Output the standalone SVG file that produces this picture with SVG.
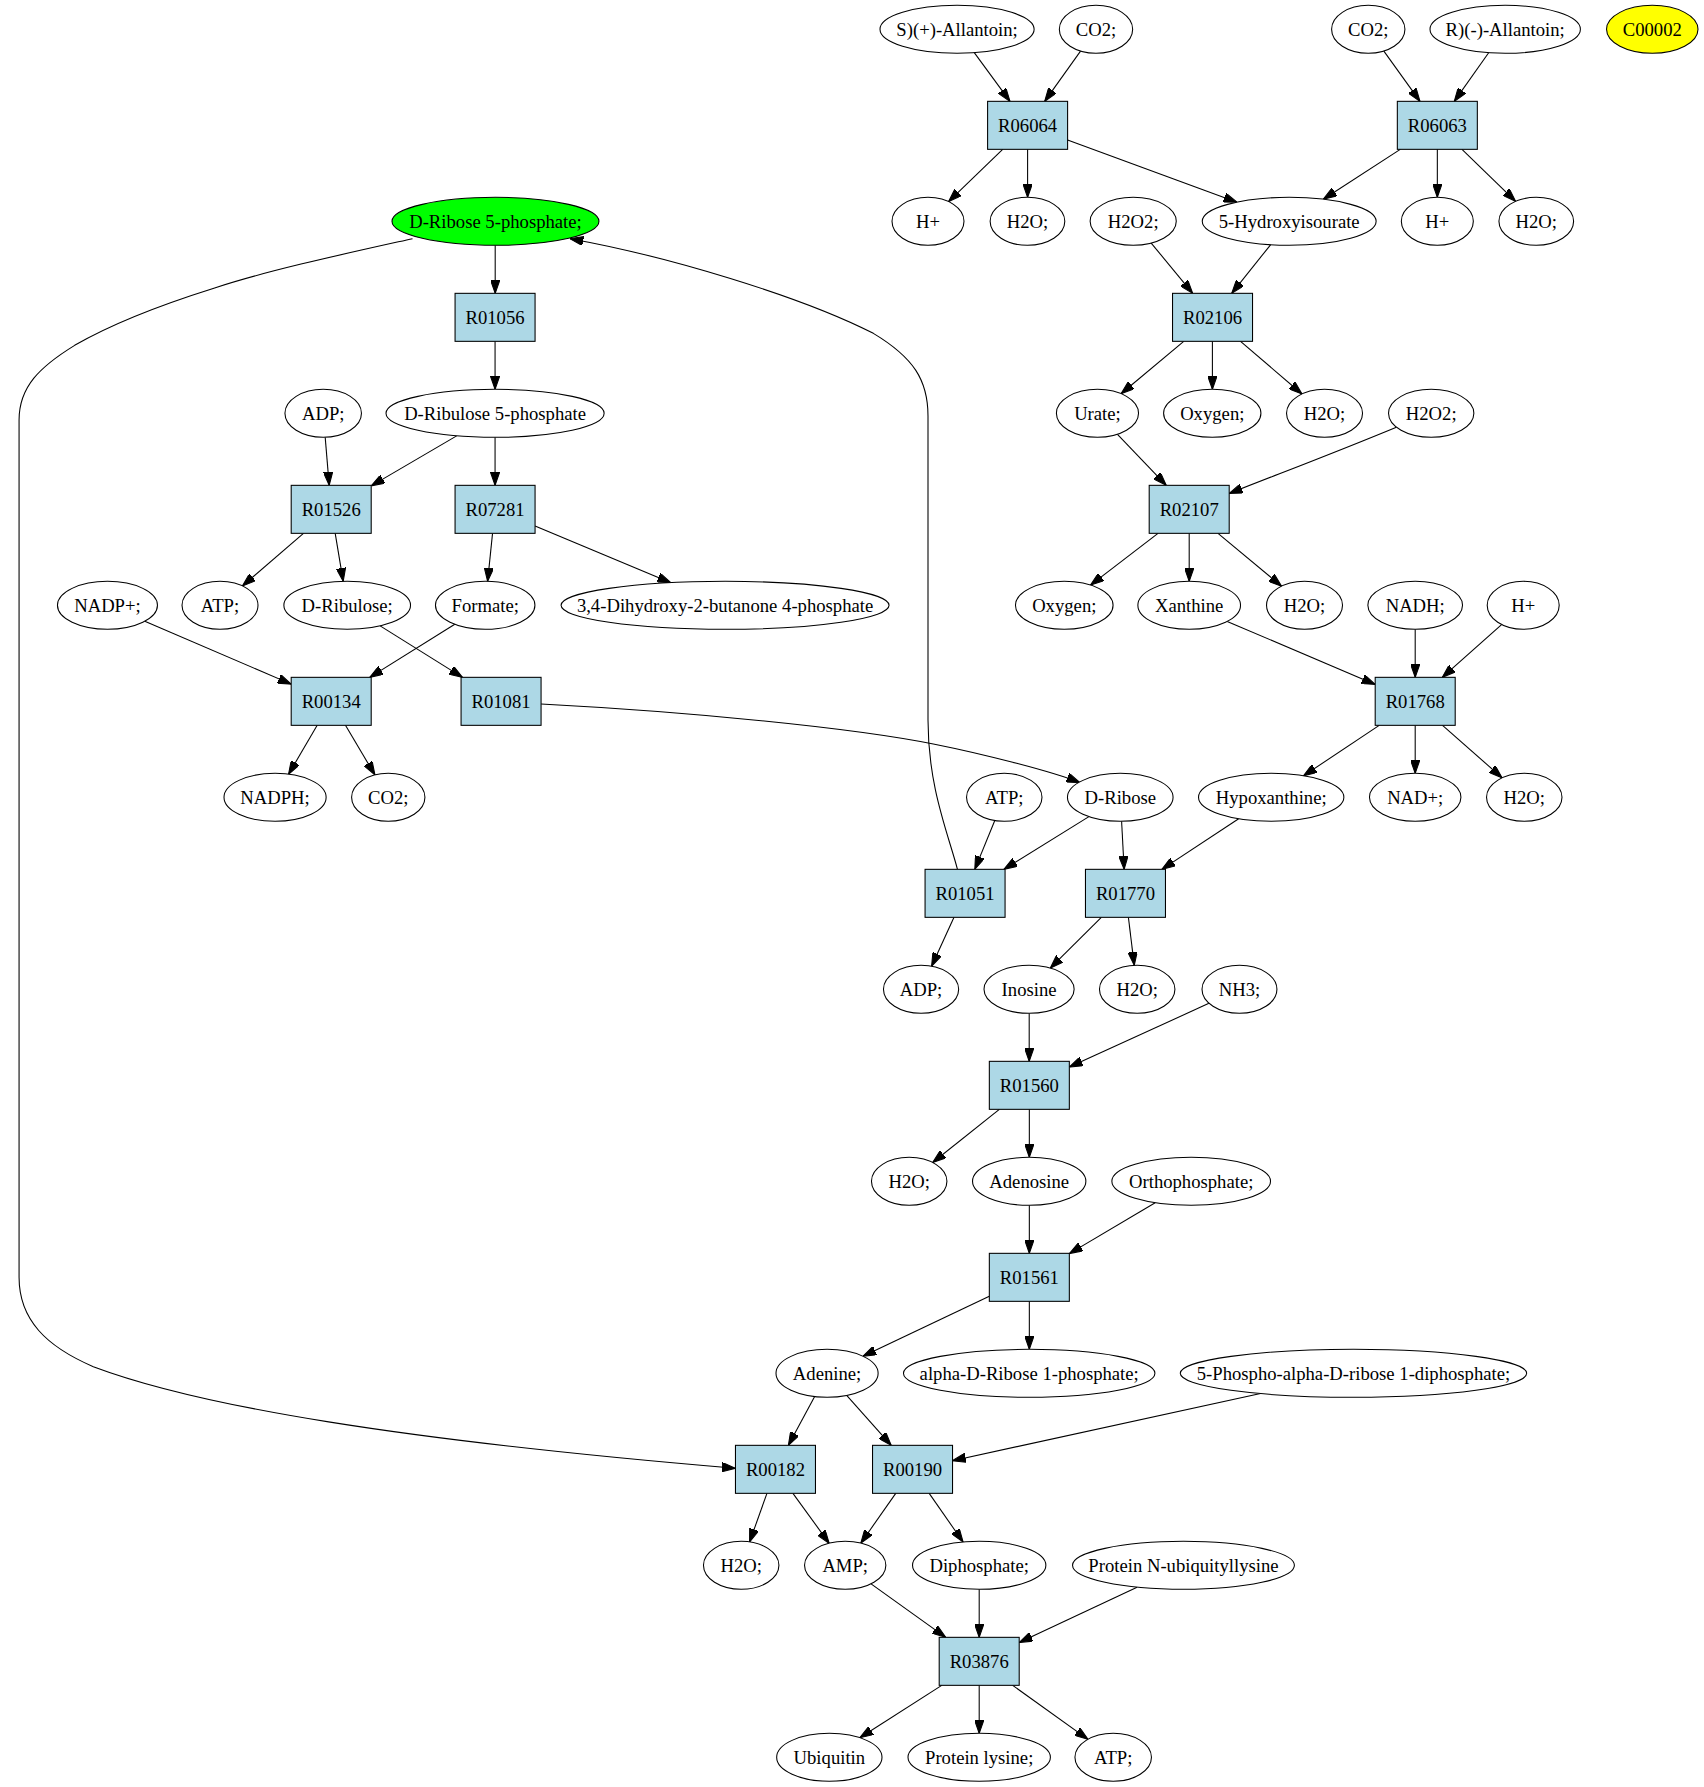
<svg xmlns="http://www.w3.org/2000/svg" width="1704" height="1787" viewBox="0 0 1704 1787">
<defs>
<style>
.e{fill:#ffffff;stroke:#000;stroke-width:0.8}
.r{fill:#add8e6;stroke:#000;stroke-width:0.8}
.g{fill:#00ff00;stroke:#000;stroke-width:0.8}
.y{fill:#ffff00;stroke:#000;stroke-width:0.8}
text{font-family:"Liberation Serif","Times New Roman",serif;font-size:14px;text-anchor:middle;fill:#000}
#edges path{fill:none;stroke:#000;stroke-width:0.8;marker-end:url(#ah)}
</style>
<marker id="ah" viewBox="0 0 10 7" refX="10" refY="3.5" markerWidth="10" markerHeight="7" orient="auto" markerUnits="userSpaceOnUse">
<path d="M0,0 L10,3.5 L0,7 z" fill="#000" stroke="#000" stroke-width="0.8"/>
</marker>
</defs>
<rect width="1704" height="1787" fill="#ffffff"/>
<g transform="scale(1.333333)">
<g id="edges">
<path d="M730.7,39.5 L757.5,76"/>
<path d="M810.4,38.3 L783.5,76"/>
<path d="M1037.9,38.3 L1065,76"/>
<path d="M1116.5,39.6 L1090.7,76"/>
<path d="M752,112 L711.4,151.2"/>
<path d="M770.7,112 L770.7,148"/>
<path d="M800.7,105 L927.7,151.6"/>
<path d="M1050.2,112 L992.5,149.4"/>
<path d="M1078,112 L1078,148"/>
<path d="M1096.5,112 L1136.7,151"/>
<path d="M371.4,184 L371.4,220"/>
<path d="M309.4,179 C260,190 200,203 161,216 C110,232 75,248 56,259 C30,275 14.3,290 14.3,315 L14.3,958 C14.3,990 35,1010 70,1025 C150,1055 300,1080 551.5,1101.2"/>
<path d="M863.4,182.3 L894.5,220"/>
<path d="M952.9,183.6 L923.8,220"/>
<path d="M371.3,256 L371.3,292"/>
<path d="M887.8,256 L840.8,295.3"/>
<path d="M909.3,256 L909.3,292"/>
<path d="M930.4,256 L976.5,295.5"/>
<path d="M243.9,328 L246.9,364"/>
<path d="M342.5,326.9 L278.4,364.4"/>
<path d="M371.3,328 L371.3,364"/>
<path d="M838.1,325.7 L874.7,364"/>
<path d="M1047.3,320.4 C1000,340 960,355 921.9,370.1"/>
<path d="M227.6,400 L181.8,439.5"/>
<path d="M251.4,400 L257.4,436"/>
<path d="M369.4,400 L365.7,436"/>
<path d="M401.3,394.5 L503.1,437"/>
<path d="M868.5,400 L817.9,438.8"/>
<path d="M891.9,400 L891.9,436"/>
<path d="M913.5,400 L961.2,439.7"/>
<path d="M108.6,466 L218.4,513.1"/>
<path d="M341.1,468.2 L277.3,508"/>
<path d="M285.1,469.4 L346.9,508"/>
<path d="M920.4,466.1 L1031.4,513.3"/>
<path d="M1061.4,472 L1061.4,508"/>
<path d="M1126.2,468.4 L1081.7,508"/>
<path d="M237.9,544 L216.4,580.7"/>
<path d="M259.1,544 L281.2,581.2"/>
<path d="M405.8,528 C520,534 640,546 700,558 C740,566 790,579 810,587"/>
<path d="M1034.4,544 L977.6,581.9"/>
<path d="M1061.4,544 L1061.4,580"/>
<path d="M1081.9,544 L1126.6,583.4"/>
<path d="M746.1,615.4 L731.1,652"/>
<path d="M816.7,612.5 L752.9,652"/>
<path d="M841.2,616 L843.1,652"/>
<path d="M929,614.1 L871.4,652"/>
<path d="M718.1,652 C711,625 696,590 696,540 L696,312 C696,285 685,268 655,250 C600,222 500,192 427.5,179"/>
<path d="M715.5,688 L698.7,724.7"/>
<path d="M826,688 L787.7,726.1"/>
<path d="M846.3,688 L850.7,724"/>
<path d="M771.9,760 L771.9,796"/>
<path d="M906.7,752.5 L802,800.3"/>
<path d="M749.5,832 L699.5,871.9"/>
<path d="M772,832 L772,868"/>
<path d="M772,904 L772,940"/>
<path d="M866.4,902 L802,940.2"/>
<path d="M742,972.2 L647.2,1017.2"/>
<path d="M772,976 L772,1012"/>
<path d="M610.9,1047.5 L591.3,1084"/>
<path d="M635,1046.6 L668.4,1084"/>
<path d="M945.4,1045.2 L714.4,1095.5"/>
<path d="M575.2,1120 L562.2,1156.5"/>
<path d="M594.7,1120 L621.9,1157.5"/>
<path d="M671.8,1120 L645.6,1157.4"/>
<path d="M696.9,1120 L722.3,1156.5"/>
<path d="M653.3,1187.9 L709.3,1228"/>
<path d="M734.4,1192 L734.4,1228"/>
<path d="M852.8,1190.4 L764.4,1231.9"/>
<path d="M706.3,1264 L644.9,1303.3"/>
<path d="M734.4,1264 L734.4,1300"/>
<path d="M759.5,1264 L816,1304.5"/>
</g>
<g id="n_sallantoin"><ellipse class="e" cx="717.8" cy="22" rx="57.8" ry="18"/><text x="717.8" y="27.3">S)(+)-Allantoin;</text></g>
<g id="n_co2_a"><ellipse class="e" cx="822" cy="22" rx="27.5" ry="18"/><text x="822" y="27.3">CO2;</text></g>
<g id="n_co2_b"><ellipse class="e" cx="1026.2" cy="22" rx="27.5" ry="18"/><text x="1026.2" y="27.3">CO2;</text></g>
<g id="n_rallantoin"><ellipse class="e" cx="1128.9" cy="22" rx="56.4" ry="18"/><text x="1128.9" y="27.3">R)(-)-Allantoin;</text></g>
<g id="n_c00002"><ellipse class="y" cx="1239.2" cy="22" rx="34.3" ry="18"/><text x="1239.2" y="27.3">C00002</text></g>
<g id="r_R06064"><rect class="r" x="740.7" y="76" width="60" height="36"/><text x="770.7" y="99.3">R06064</text></g>
<g id="r_R06063"><rect class="r" x="1048" y="76" width="60" height="36"/><text x="1078" y="99.3">R06063</text></g>
<g id="n_ribose5p"><ellipse class="g" cx="371.6" cy="166" rx="77.6" ry="18"/><text x="371.6" y="171.3">D-Ribose 5-phosphate;</text></g>
<g id="n_hplus_a"><ellipse class="e" cx="696" cy="166" rx="27" ry="18"/><text x="696" y="171.3">H+</text></g>
<g id="n_h2o_a"><ellipse class="e" cx="770.6" cy="166" rx="28" ry="18"/><text x="770.6" y="171.3">H2O;</text></g>
<g id="n_h2o2_a"><ellipse class="e" cx="849.9" cy="166" rx="32.3" ry="18"/><text x="849.9" y="171.3">H2O2;</text></g>
<g id="n_hydroxyisourate"><ellipse class="e" cx="966.9" cy="166" rx="65.2" ry="18"/><text x="966.9" y="171.3">5-Hydroxyisourate</text></g>
<g id="n_hplus_b"><ellipse class="e" cx="1078" cy="166" rx="27" ry="18"/><text x="1078" y="171.3">H+</text></g>
<g id="n_h2o_b"><ellipse class="e" cx="1152.2" cy="166" rx="28" ry="18"/><text x="1152.2" y="171.3">H2O;</text></g>
<g id="r_R01056"><rect class="r" x="341.3" y="220" width="60" height="36"/><text x="371.3" y="243.3">R01056</text></g>
<g id="r_R02106"><rect class="r" x="879.4" y="220" width="60" height="36"/><text x="909.4" y="243.3">R02106</text></g>
<g id="n_adp_a"><ellipse class="e" cx="242.4" cy="310" rx="28.7" ry="18"/><text x="242.4" y="315.3">ADP;</text></g>
<g id="n_ribulose5p"><ellipse class="e" cx="371.3" cy="310" rx="81.8" ry="18"/><text x="371.3" y="315.3">D-Ribulose 5-phosphate</text></g>
<g id="n_urate"><ellipse class="e" cx="823.1" cy="310" rx="30.8" ry="18"/><text x="823.1" y="315.3">Urate;</text></g>
<g id="n_oxygen_a"><ellipse class="e" cx="909.2" cy="310" rx="36.5" ry="18"/><text x="909.2" y="315.3">Oxygen;</text></g>
<g id="n_h2o_c"><ellipse class="e" cx="993.4" cy="310" rx="28.5" ry="18"/><text x="993.4" y="315.3">H2O;</text></g>
<g id="n_h2o2_b"><ellipse class="e" cx="1073.4" cy="310" rx="32" ry="18"/><text x="1073.4" y="315.3">H2O2;</text></g>
<g id="r_R01526"><rect class="r" x="218.4" y="364" width="60" height="36"/><text x="248.4" y="387.3">R01526</text></g>
<g id="r_R07281"><rect class="r" x="341.3" y="364" width="60" height="36"/><text x="371.3" y="387.3">R07281</text></g>
<g id="r_R02107"><rect class="r" x="861.9" y="364" width="60" height="36"/><text x="891.9" y="387.3">R02107</text></g>
<g id="n_nadp"><ellipse class="e" cx="80.6" cy="454" rx="37.5" ry="18"/><text x="80.6" y="459.3">NADP+;</text></g>
<g id="n_atp_a"><ellipse class="e" cx="165" cy="454" rx="28.5" ry="18"/><text x="165" y="459.3">ATP;</text></g>
<g id="n_ribulose"><ellipse class="e" cx="260.4" cy="454" rx="47.5" ry="18"/><text x="260.4" y="459.3">D-Ribulose;</text></g>
<g id="n_formate"><ellipse class="e" cx="363.9" cy="454" rx="37.3" ry="18"/><text x="363.9" y="459.3">Formate;</text></g>
<g id="n_dihydroxybutanone"><ellipse class="e" cx="543.8" cy="454" rx="123" ry="18"/><text x="543.8" y="459.3">3,4-Dihydroxy-2-butanone 4-phosphate</text></g>
<g id="n_oxygen_b"><ellipse class="e" cx="798.2" cy="454" rx="36.6" ry="18"/><text x="798.2" y="459.3">Oxygen;</text></g>
<g id="n_xanthine"><ellipse class="e" cx="891.9" cy="454" rx="38.5" ry="18"/><text x="891.9" y="459.3">Xanthine</text></g>
<g id="n_h2o_d"><ellipse class="e" cx="978.4" cy="454" rx="28.5" ry="18"/><text x="978.4" y="459.3">H2O;</text></g>
<g id="n_nadh"><ellipse class="e" cx="1061.4" cy="454" rx="35.5" ry="18"/><text x="1061.4" y="459.3">NADH;</text></g>
<g id="n_hplus_c"><ellipse class="e" cx="1142.4" cy="454" rx="27" ry="18"/><text x="1142.4" y="459.3">H+</text></g>
<g id="r_R00134"><rect class="r" x="218.4" y="508" width="60" height="36"/><text x="248.4" y="531.3">R00134</text></g>
<g id="r_R01081"><rect class="r" x="345.8" y="508" width="60" height="36"/><text x="375.8" y="531.3">R01081</text></g>
<g id="r_R01768"><rect class="r" x="1031.4" y="508" width="60" height="36"/><text x="1061.4" y="531.3">R01768</text></g>
<g id="n_nadph"><ellipse class="e" cx="206.3" cy="598" rx="38.3" ry="18"/><text x="206.3" y="603.3">NADPH;</text></g>
<g id="n_co2_c"><ellipse class="e" cx="291.2" cy="598" rx="27.5" ry="18"/><text x="291.2" y="603.3">CO2;</text></g>
<g id="n_atp_b"><ellipse class="e" cx="753.2" cy="598" rx="28.3" ry="18"/><text x="753.2" y="603.3">ATP;</text></g>
<g id="n_ribose"><ellipse class="e" cx="840.2" cy="598" rx="39.6" ry="18"/><text x="840.2" y="603.3">D-Ribose</text></g>
<g id="n_hypoxanthine"><ellipse class="e" cx="953.4" cy="598" rx="54.5" ry="18"/><text x="953.4" y="603.3">Hypoxanthine;</text></g>
<g id="n_nad"><ellipse class="e" cx="1061.4" cy="598" rx="34.3" ry="18"/><text x="1061.4" y="603.3">NAD+;</text></g>
<g id="n_h2o_e"><ellipse class="e" cx="1143.2" cy="598" rx="28.3" ry="18"/><text x="1143.2" y="603.3">H2O;</text></g>
<g id="r_R01051"><rect class="r" x="693.8" y="652" width="60" height="36"/><text x="723.8" y="675.3">R01051</text></g>
<g id="r_R01770"><rect class="r" x="814.1" y="652" width="60" height="36"/><text x="844.1" y="675.3">R01770</text></g>
<g id="n_adp_b"><ellipse class="e" cx="690.8" cy="742" rx="28.2" ry="18"/><text x="690.8" y="747.3">ADP;</text></g>
<g id="n_inosine"><ellipse class="e" cx="771.8" cy="742" rx="33.8" ry="18"/><text x="771.8" y="747.3">Inosine</text></g>
<g id="n_h2o_f"><ellipse class="e" cx="852.9" cy="742" rx="28.3" ry="18"/><text x="852.9" y="747.3">H2O;</text></g>
<g id="n_nh3"><ellipse class="e" cx="929.6" cy="742" rx="28.1" ry="18"/><text x="929.6" y="747.3">NH3;</text></g>
<g id="r_R01560"><rect class="r" x="742" y="796" width="60" height="36"/><text x="772" y="819.3">R01560</text></g>
<g id="n_h2o_g"><ellipse class="e" cx="681.9" cy="886" rx="28.3" ry="18"/><text x="681.9" y="891.3">H2O;</text></g>
<g id="n_adenosine"><ellipse class="e" cx="771.9" cy="886" rx="42.5" ry="18"/><text x="771.9" y="891.3">Adenosine</text></g>
<g id="n_orthophosphate"><ellipse class="e" cx="893.4" cy="886" rx="59.5" ry="18"/><text x="893.4" y="891.3">Orthophosphate;</text></g>
<g id="r_R01561"><rect class="r" x="742" y="940" width="60" height="36"/><text x="772" y="963.3">R01561</text></g>
<g id="n_adenine"><ellipse class="e" cx="620.3" cy="1030" rx="38.3" ry="18"/><text x="620.3" y="1035.3">Adenine;</text></g>
<g id="n_ribose1p"><ellipse class="e" cx="771.9" cy="1030" rx="94.3" ry="18"/><text x="771.9" y="1035.3">alpha-D-Ribose 1-phosphate;</text></g>
<g id="n_prpp"><ellipse class="e" cx="1015.1" cy="1030" rx="129.9" ry="18"/><text x="1015.1" y="1035.3">5-Phospho-alpha-D-ribose 1-diphosphate;</text></g>
<g id="r_R00182"><rect class="r" x="551.6" y="1084" width="60" height="36"/><text x="581.6" y="1107.3">R00182</text></g>
<g id="r_R00190"><rect class="r" x="654.4" y="1084" width="60" height="36"/><text x="684.4" y="1107.3">R00190</text></g>
<g id="n_h2o_h"><ellipse class="e" cx="555.9" cy="1174" rx="28.3" ry="18"/><text x="555.9" y="1179.3">H2O;</text></g>
<g id="n_amp"><ellipse class="e" cx="633.9" cy="1174" rx="30.5" ry="18"/><text x="633.9" y="1179.3">AMP;</text></g>
<g id="n_diphosphate"><ellipse class="e" cx="734.4" cy="1174" rx="50" ry="18"/><text x="734.4" y="1179.3">Diphosphate;</text></g>
<g id="n_ubiqlysine"><ellipse class="e" cx="887.6" cy="1174" rx="83.2" ry="18"/><text x="887.6" y="1179.3">Protein N-ubiquityllysine</text></g>
<g id="r_R03876"><rect class="r" x="704.4" y="1228" width="60" height="36"/><text x="734.4" y="1251.3">R03876</text></g>
<g id="n_ubiquitin"><ellipse class="e" cx="622" cy="1318" rx="39.5" ry="18"/><text x="622" y="1323.3">Ubiquitin</text></g>
<g id="n_proteinlysine"><ellipse class="e" cx="734.4" cy="1318" rx="53.4" ry="18"/><text x="734.4" y="1323.3">Protein lysine;</text></g>
<g id="n_atp_c"><ellipse class="e" cx="834.9" cy="1318" rx="28.7" ry="18"/><text x="834.9" y="1323.3">ATP;</text></g>
</g>
</svg>
